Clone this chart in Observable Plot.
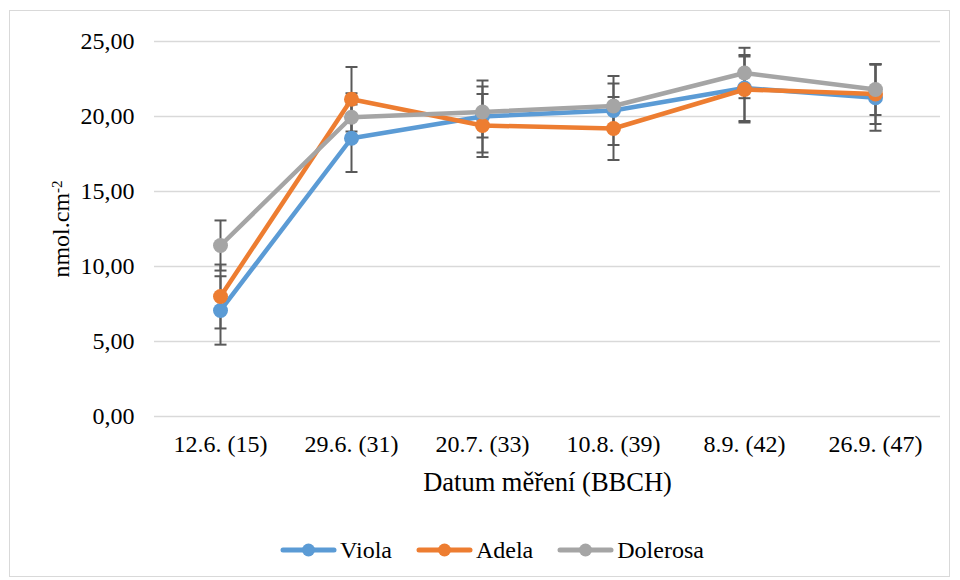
<!DOCTYPE html>
<html>
<head>
<meta charset="utf-8">
<script src="https://cdn.jsdelivr.net/npm/d3@7"></script>
<script src="https://cdn.jsdelivr.net/npm/@observablehq/plot@0.6"></script>
<style>
  html, body { margin: 0; padding: 0; background: #fff; }
  body { width: 960px; height: 580px; position: relative; overflow: hidden; font-family: "Liberation Serif", "Times New Roman", serif; }
  #frame { position: absolute; left: 9px; top: 10px; width: 941px; height: 567px; border: 1.5px solid #d9d9d9; box-sizing: border-box; pointer-events: none; }
  #chart { position: absolute; left: 0; top: 0; }
  #chart svg, #chart text { font-family: "Liberation Serif", "Times New Roman", serif; }
  #legend { position: absolute; left: 0; top: 535px; width: 960px; height: 30px; display: flex; justify-content: center; align-items: center; padding-left: 24px; box-sizing: border-box; font-size: 24px; color: #000; }
  .item { display: flex; align-items: center; margin: 0 12px; }
  .item svg { margin-right: 3px; }
</style>
</head>
<body>
<div id="frame"></div>
<div id="chart"></div>
<div id="legend"></div>
<script>
const dates = ["12.6. (15)", "29.6. (31)", "20.7. (33)", "10.8. (39)", "8.9. (42)", "26.9. (47)"];
const seriesNames = ["Viola", "Adela", "Dolerosa"];
const seriesColors = ["#5b9bd5", "#ed7d31", "#a5a5a5"];
const viola = [7.07, 18.55, 20.0, 20.4, 21.9, 21.25];
const violaErr = [2.28, 2.25, 2.4, 2.3, 2.2, 2.2];
const adela = [8.0, 21.15, 19.4, 19.2, 21.8, 21.5];
const adelaErr = [2.13, 2.15, 2.1, 2.1, 2.2, 2.0];
const dolerosa = [11.4, 19.95, 20.3, 20.7, 22.9, 21.8];
const dolerosaErr = [1.67, 1.6, 1.7, 1.5, 1.68, 1.7];
const yTicks = [0, 5, 10, 15, 20, 25];
const xLabel = "Datum měření (BBCH)";
const yLabel = "nmol.cm-2";

const values = [viola, adela, dolerosa];
const errs = [violaErr, adelaErr, dolerosaErr];
const data = [];
seriesNames.forEach((s, i) => dates.forEach((d, j) => data.push({series: s, date: d, value: values[i][j], err: errs[i][j]})));

const capSymbol = { draw(ctx) { ctx.moveTo(-6, 0); ctx.lineTo(6, 0); } };
const errColor = "#595959";
const font = '"Liberation Serif", "Times New Roman", serif';

const marks = [
  Plot.gridY(yTicks, {stroke: "#d9d9d9", strokeOpacity: 1, strokeWidth: 1.4}),
  Plot.axisY({ticks: yTicks, tickSize: 0, tickPadding: 20, tickFormat: d => d.toFixed(2).replace(".", ","), label: yLabel, labelArrow: "none", labelAnchor: "center", labelOffset: 103, fontSize: 24, fill: "#000"}),
  Plot.axisX({tickSize: 0, tickPadding: 18, label: xLabel, labelArrow: "none", labelAnchor: "center", labelOffset: 74, fontSize: 24, fill: "#000"}),
  Plot.ruleX(data, {x: "date", y1: d => d.value - d.err, y2: d => d.value + d.err, stroke: errColor, strokeWidth: 2}),
  Plot.dot(data, {x: "date", y: d => d.value - d.err, symbol: capSymbol, r: 6, stroke: errColor, strokeWidth: 2, fill: "none"}),
  Plot.dot(data, {x: "date", y: d => d.value + d.err, symbol: capSymbol, r: 6, stroke: errColor, strokeWidth: 2, fill: "none"})
];
seriesNames.forEach((s, i) => {
  const sub = data.filter(d => d.series === s);
  marks.push(Plot.line(sub, {x: "date", y: "value", stroke: seriesColors[i], strokeWidth: 4.5, strokeLinejoin: "round", strokeLinecap: "round"}));
  marks.push(Plot.dot(sub, {x: "date", y: "value", r: 7.5, fill: seriesColors[i], stroke: "none"}));
});

const chart = Plot.plot({
  width: 960,
  height: 500,
  marginLeft: 154,
  marginRight: 20,
  marginTop: 41,
  marginBottom: 84,
  style: {fontFamily: font, fontSize: "24px", color: "#000", background: "transparent", overflow: "visible"},
  x: {type: "point", domain: dates, padding: 0.5, align: 0.5, label: null},
  y: {domain: [0, 25], label: null},
  marks
});
document.getElementById("chart").appendChild(chart);

// superscript on the y axis label, remove any arrow
d3.select(chart).selectAll("text").each(function() {
  const txt = this.textContent;
  if (txt.startsWith(yLabel)) {
    const t = d3.select(this);
    t.text(null);
    t.append("tspan").text("nmol.cm");
    t.append("tspan").attr("dy", "-0.45em").attr("font-size", "15px").text("-2");
  }
  if (txt.startsWith(xLabel)) {
    d3.select(this).text(xLabel).attr("font-size", "26.5px");
  }
});

// legend
const legend = d3.select("#legend");
seriesNames.forEach((s, i) => {
  const item = legend.append("div").attr("class", "item");
  const sv = item.append("svg").attr("width", 57).attr("height", 20);
  sv.append("line").attr("x1", 3).attr("x2", 54).attr("y1", 10).attr("y2", 10).attr("stroke", seriesColors[i]).attr("stroke-width", 5).attr("stroke-linecap", "round");
  sv.append("circle").attr("cx", 28.5).attr("cy", 10).attr("r", 6.5).attr("fill", seriesColors[i]);
  item.append("span").text(s);
});
</script>
</body>
</html>
